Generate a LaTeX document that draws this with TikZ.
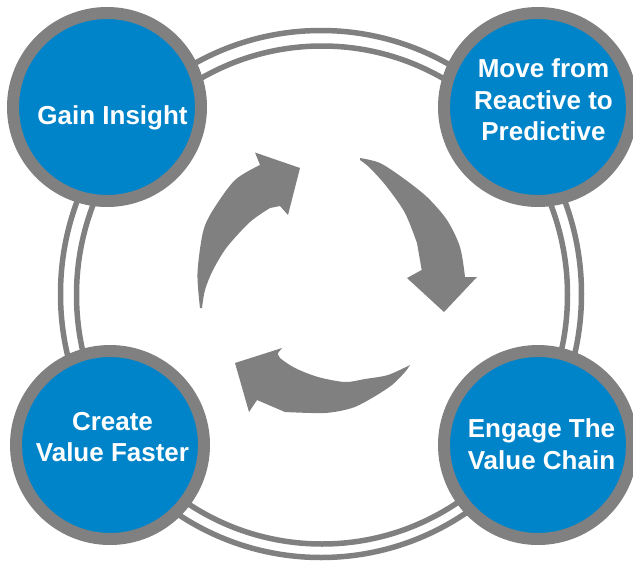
\documentclass[tikz,border=0pt]{standalone}
\usepackage{fontspec}
\setmainfont{Liberation Sans}
\definecolor{ringgray}{RGB}{128,128,128}
\definecolor{hubblue}{RGB}{0,132,201}
\begin{document}
\begin{tikzpicture}[x=1pt,y=-1pt,
  ringline/.style={draw=ringgray, line width=5.5pt},
  hub/.style={circle, fill=hubblue, draw=ringgray, line width=12pt, minimum size=188pt, inner sep=0pt},
  hubtext/.style={text=white, font=\bfseries\fontsize{26}{31.5}\selectfont, align=center, inner sep=0pt},
  cyclearrow/.style={fill=ringgray}]
\useasboundingbox (0,0) rectangle (633,565);
% double ring
\draw[ringline] (321,294) ellipse [x radius=260.5pt, y radius=263.5pt];
\draw[ringline] (322,295) ellipse [x radius=245.5pt, y radius=249pt];
% hubs
\node[hub] (h1) at (107,107) {};
\node[hub] (h2) at (538,107) {};
\node[hub] (h3) at (110,445) {};
\node[hub] (h4) at (538,445) {};
\node[hubtext] (t1) at (112.5,118) {Gain Insight};
\node[hubtext] (t2) at (543.5,100) {Move from\\Reactive to\\Predictive};
\node[hubtext] (t3) at (112.5,437) {Create\\Value Faster};
\node[hubtext] (t4) at (541.5,444) {Engage The\\Value Chain};
% arrow 1 (upper left)
\fill[cyclearrow] plot[smooth] coordinates {(200,308) (197.5,273) (203,232) (213,210) (235,180) (260,165)}
  -- (255,152.5) -- (300,168) -- (288,215) -- (280,206)
  -- plot[smooth] coordinates {(270,208) (250,222) (227,247) (213,270) (205,290) (202,308)} -- cycle;
% arrow 2 (upper right)
\fill[cyclearrow] plot[smooth] coordinates {(360,158) (380,163) (403,178) (427,197) (447,220) (460,247) (465,277)}
  -- (477,277) -- (444,312) -- (407,278) -- (421.7,270)
  -- plot[smooth] coordinates {(417,243) (405,213) (387,187) (370,168) (360,160)} -- cycle;
% arrow 3 (bottom)
\fill[cyclearrow] plot[smooth] coordinates {(410,365) (388,375) (365,379) (345,382) (318,377) (295,368) (280,358) (278,353)}
  -- (282,348) -- (235,363) -- (249,412) -- (257,400)
  -- plot[smooth] coordinates {(285,412) (325,413) (352,408) (372,398) (392,385) (405,372) (410,365)} -- cycle;
\end{tikzpicture}
\end{document}
